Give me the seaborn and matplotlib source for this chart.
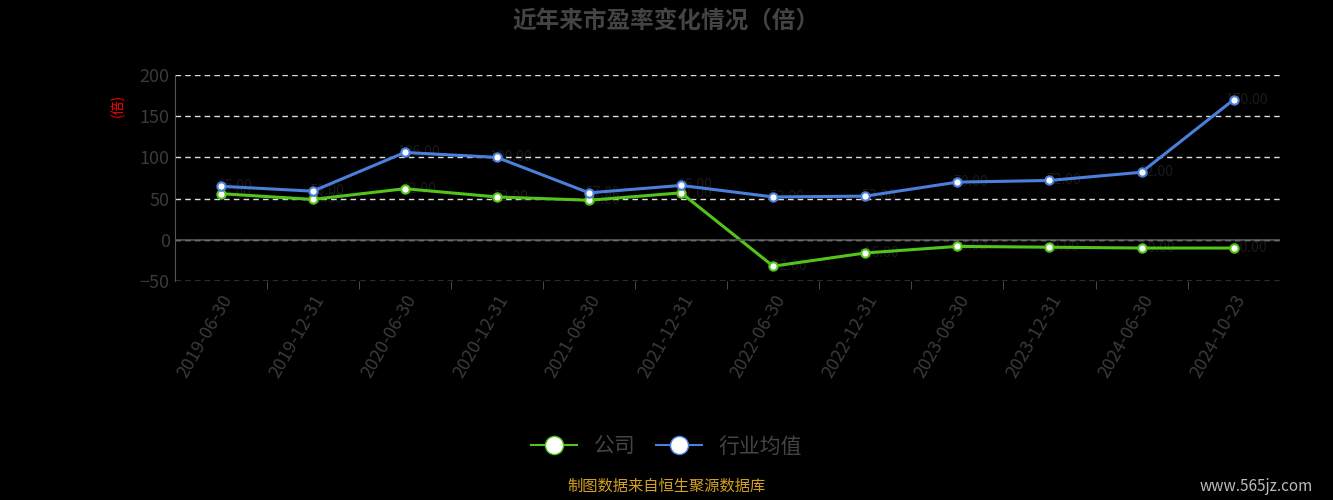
import matplotlib
matplotlib.use("Agg")
import matplotlib.pyplot as plt
import seaborn as sns
import pandas as pd
from matplotlib.lines import Line2D

plt.rcParams["font.family"] = "Noto Sans CJK SC"

dates = ["2019-06-30", "2019-12-31", "2020-06-30", "2020-12-31", "2021-06-30", "2021-12-31",
         "2022-06-30", "2022-12-31", "2023-06-30", "2023-12-31", "2024-06-30", "2024-10-23"]
company = [56, 49, 62, 52, 48, 57, -32, -16, -8, -9, -10, -10]
industry = [65, 59, 106, 100, 57, 66, 52, 53, 70, 72, 82, 170]

df = pd.DataFrame({"date": dates * 2, "pe": company + industry,
                   "series": ["公司"] * 12 + ["行业均值"] * 12})

fig = plt.figure(figsize=(13.33, 5), dpi=100, facecolor="black")
ax = fig.add_axes([0.131, 0.438, 0.829, 0.412], facecolor="black")

# labels sit behind the lines, nearly invisible like in the original
for i, (a, b) in enumerate(zip(company, industry)):
    ax.text(i + 0.15, a, f"{a:.2f}", color="#1a1a1a", fontsize=10, ha="center", va="center", zorder=0)
    ax.text(i + 0.15, b, f"{b:.2f}", color="#1a1a1a", fontsize=10, ha="center", va="center", zorder=0)

sns.lineplot(data=df, x="date", y="pe", hue="series", sort=False,
             palette={"公司": "#52c41a", "行业均值": "#4a7fdb"}, linewidth=2.2,
             marker="o", markersize=6, markerfacecolor="white", markeredgewidth=1.5, ax=ax, legend=False)
ax.lines[0].set_markeredgecolor("#52c41a")
ax.lines[1].set_markeredgecolor("#4a7fdb")

ax.set_xlim(-0.5, 11.5)
ax.set_ylim(-50, 200)
ax.set_yticks([-50, 0, 50, 100, 150, 200])
ax.grid(axis="y", color="#dddddd", linestyle=(0, (4, 3)), linewidth=1)
ax.axhline(0, color="#555", linewidth=1.2)
for sp in ["top", "right", "bottom"]:
    ax.spines[sp].set_visible(False)
ax.spines["left"].set_color("#555")
ax.set_xticks(range(12))
ax.set_xticks([i + 0.5 for i in range(11)], minor=True)
ax.set_xticklabels(dates, rotation=60, ha="right", rotation_mode="anchor", color="#3a3a3a", fontsize=13)
ax.tick_params(axis="x", which="major", length=0, pad=8)
ax.tick_params(axis="x", which="minor", length=6, color="#555")
ax.tick_params(axis="y", colors="#3a3a3a", labelsize=13, length=0)
ax.set_xlabel("")
ax.set_ylabel("(倍)", color="red", fontsize=10, rotation=90)
ax.yaxis.set_label_coords(-0.045, 0.85)

fig.text(0.5, 0.945, "近年来市盈率变化情况（倍）", color="#444", fontsize=17, weight="bold", ha="center")

handles = [Line2D([], [], color=c, marker="o", markersize=13, markerfacecolor="white", linewidth=1.5)
           for c in ["#52c41a", "#4a7fdb"]]
fig.legend(handles, ["公司", "行业均值"], loc="center", bbox_to_anchor=(0.5, 0.107), ncol=2,
           frameon=False, labelcolor="#444", fontsize=15, handlelength=2.2, columnspacing=1)
fig.text(0.5, 0.018, "制图数据来自恒生聚源数据库", color="#d4a020", fontsize=11, ha="center")
fig.text(0.985, 0.018, "www.565jz.com", color="#bbb", fontsize=11, ha="right")

fig.savefig("out.png", dpi=100, facecolor="black")
